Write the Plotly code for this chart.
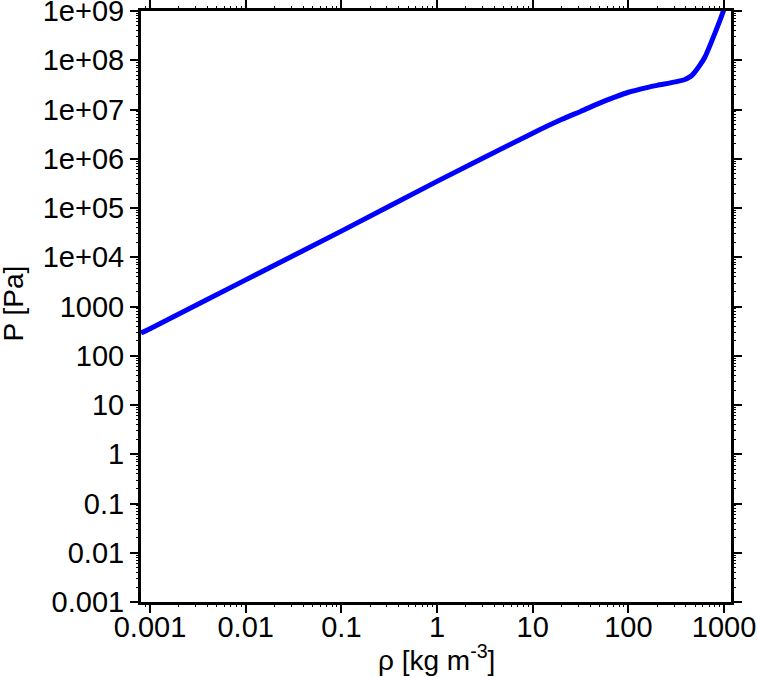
import plotly.graph_objects as go
import numpy as np

# Data (density kg/m^3, pressure Pa)
rho = [0.000805, 0.001, 0.01, 0.1, 1, 10, 20, 32, 50, 72, 100, 160, 200, 310,
       390, 420, 460, 495, 560, 630, 800, 980, 1000]
pres = [288, 355, 3470, 33900, 3.47e5, 3.31e6, 6.24e6, 9.23e6, 1.35e7, 1.78e7,
        2.24e7, 2.82e7, 3.09e7, 3.63e7, 4.07e7, 4.37e7, 4.9e7, 5.75e7, 7.94e7,
        1.15e8, 3.47e8, 9.77e8, 1.12e9]

x_major = [0.001, 0.01, 0.1, 1, 10, 100, 1000]
x_labels = ["0.001", "0.01", "0.1", "1", "10", "100", "1000"]
y_major = [1e-3, 1e-2, 1e-1, 1, 10, 100, 1000, 1e4, 1e5, 1e6, 1e7, 1e8, 1e9]
y_labels = ["0.001", "0.01", "0.1", "1", "10", "100", "1000",
            "1e+04", "1e+05", "1e+06", "1e+07", "1e+08", "1e+09"]
x_title = "ρ [kg m<sup>-3</sup>]"
y_title = "P [Pa]"

xr = [np.log10(0.000805), np.log10(1183)]
yr = [-3, 9]

def minors(lo, hi):
    out = []
    for e in range(int(np.floor(lo)) - 1, int(np.ceil(hi)) + 1):
        for m in range(2, 10):
            v = m * 10.0 ** e
            if lo <= np.log10(v) <= hi:
                out.append(v)
    return out

x_minor = minors(*xr)
y_minor = minors(*yr)

font = "Liberation Sans, Arial, Helvetica, sans-serif"
FS = 29

fig = go.Figure()
fig.add_trace(go.Scatter(x=rho, y=pres, mode="lines",
                         line=dict(color="#0000ff", width=5, shape="spline", smoothing=0.8),
                         showlegend=False, hoverinfo="skip"))
fig.add_trace(go.Scatter(x=[1], y=[1], xaxis="x2", yaxis="y2", mode="markers",
                         marker=dict(opacity=0), showlegend=False, hoverinfo="skip"))

common = dict(type="log", showgrid=False, zeroline=False, ticks="outside",
              linecolor="black", tickcolor="black", automargin=False,
              ticklabeloverflow="allow")

fig.update_layout(
    width=757, height=677,
    margin=dict(l=141, r=26, t=11, b=75, autoexpand=False),
    paper_bgcolor="white", plot_bgcolor="white",
    font=dict(family=font, size=FS, color="black"),
    xaxis=dict(**common, range=xr, tickvals=x_major, ticktext=x_labels,
               ticklen=8, tickwidth=1.5, linewidth=3, mirror="allticks",
               showline=True, ticklabelstandoff=-11),
    yaxis=dict(**common, range=yr, tickvals=y_major, ticktext=y_labels,
               ticklen=8, tickwidth=1.5, linewidth=3, mirror="allticks",
               showline=True, ticklabelstandoff=0),
    xaxis2=dict(**common, range=xr, overlaying="x", side="bottom", anchor="y2",
                tickvals=x_minor, showticklabels=False, ticklen=4, tickwidth=1,
                mirror="allticks", showline=False),
    yaxis2=dict(**common, range=yr, overlaying="y", side="left", anchor="x2",
                tickvals=y_minor, showticklabels=False, ticklen=4, tickwidth=1,
                mirror="allticks", showline=False),
    annotations=[
        dict(text=x_title, xref="paper", yref="paper", x=0.5, y=-0.128,
             xanchor="center", yanchor="bottom", showarrow=False,
             font=dict(size=28)),
        dict(text=y_title, xref="paper", yref="paper", x=-0.245, y=0.505,
             xanchor="left", yanchor="middle", textangle=-90, showarrow=False,
             font=dict(size=28)),
    ],
)

fig.write_html("out.html", config={"displayModeBar": False},
               post_script="document.body.style.margin='0';document.body.style.overflow='hidden';")
